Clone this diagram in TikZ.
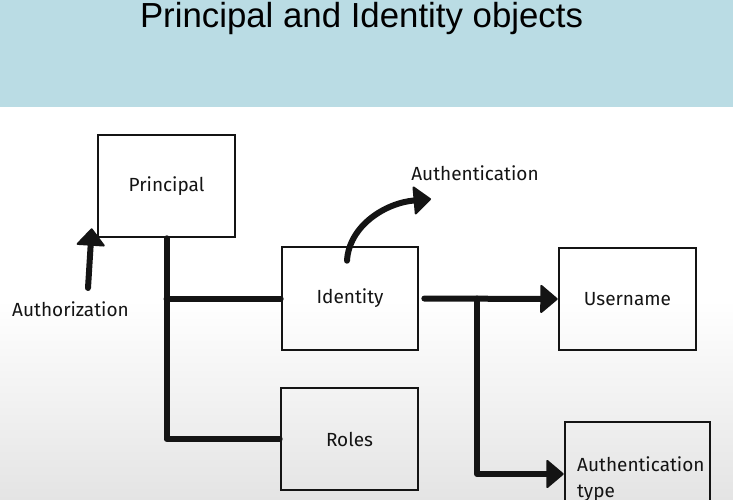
\documentclass[tikz,border=0pt]{standalone}
\usepackage{fontspec}
\setmainfont{Fira Sans}
\newfontfamily\titlefont{Liberation Sans}
\usetikzlibrary{arrows.meta}
\definecolor{band}{RGB}{186,220,228}
\definecolor{ink}{RGB}{20,20,20}
\definecolor{floor}{RGB}{228,228,228}
\tikzset{
  box/.style={draw=ink, line width=2.6pt, inner sep=0pt, font=\fontsize{19}{22}\selectfont, text=ink},
  lbl/.style={inner sep=0pt, font=\fontsize{19}{22}\selectfont, text=ink},
  conn/.style={draw=ink, line width=6pt, line cap=round, line join=round},
  tip/.style={-{Triangle[round, length=18pt, width=30pt, line width=2pt]}}
}
\begin{document}
\begin{tikzpicture}[x=1pt,y=-1pt]
\useasboundingbox (0,0) rectangle (733,500);
\clip (0,0) rectangle (733,500);
% background
\fill[white] (0,107) rectangle (733,300);
\shade[top color=white, bottom color=floor] (0,300) rectangle (733,500);
\fill[band] (0,0) rectangle (733,107);
\node[anchor=base, inner sep=0pt, font=\titlefont\fontsize{34.8}{40}\selectfont, text=black] (title) at (361.5,28) {Principal and Identity objects};
% boxes
\node[box, minimum width=137pt, minimum height=102pt] (principal) at (166.5,186) {Principal};
\node[box, minimum width=136pt, minimum height=103pt] (identity) at (350,298.5) {Identity};
\node[box, minimum width=137pt, minimum height=102pt] (roles) at (349.5,439) {Roles};
\node[box, minimum width=137pt, minimum height=102pt] (username) at (627.5,299) {Username};
\node[box, minimum width=145pt, minimum height=104pt] (authtype) at (637.5,474) {};
\node[lbl, align=left, anchor=north west, font=\fontsize{19}{26}\selectfont] (authtypetext) at (577,456) {Authentication\\type};
% labels
\node[lbl, anchor=base] (authz) at (70.5,316) {Authorization};
\node[lbl, anchor=base] (authn) at (475,180) {Authentication};
% connectors from Principal
\draw[conn] (principal.south) |- (roles.west);
\draw[conn] (principal.south |- identity.west) -- (identity.west);
% Authorization arrow
\coordinate (authzstart) at (88,288);
\draw[conn, tip] (authzstart) -- ([xshift=-5pt,yshift=10pt]principal.south west);
% Authentication curve
\coordinate (authnstart) at ([xshift=-3pt,yshift=-15pt]identity.north);
\coordinate (authnend) at (431,199);
\draw[conn, tip] (authnstart) .. controls (349,226) and (385,203) .. (authnend);
% Identity to Username and Authentication type
\draw[conn, tip, shorten <=5pt] (identity.east) -- (username.west);
\coordinate (split) at (477,298.5);
\draw[conn, tip] (split) |- (authtype.west);
\end{tikzpicture}
\end{document}
